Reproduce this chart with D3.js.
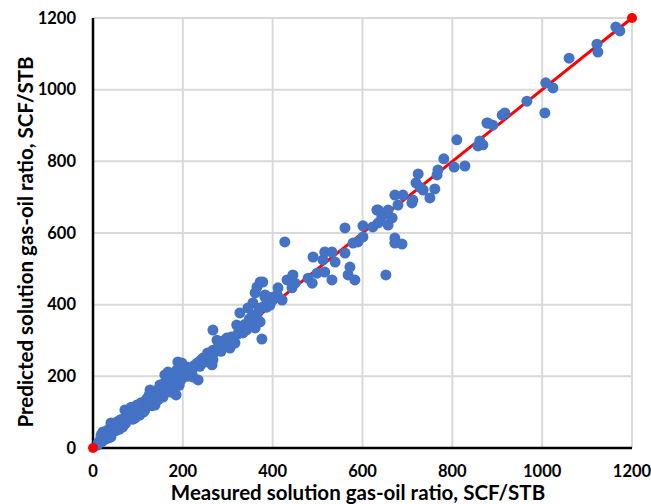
<!DOCTYPE html>
<html>
<head>
<meta charset="utf-8">
<script src="https://cdn.jsdelivr.net/npm/d3@7"></script>
<style>
  html, body { margin: 0; padding: 0; background: #fff; }
  svg { display: block; }
  text { font-family: Lato, "Open Sans", sans-serif; font-weight: bold; fill: #000; }
</style>
</head>
<body>
<svg id="chart" width="651" height="504"></svg>
<script>
// measured vs predicted Rs, SCF/STB
const lowRange = [
  [10, 8], [12, 15], [16, 22], [18, 36], [25, 30], [30, 42], [33, 50], [40, 31], [40, 70], [45, 55],
  [50, 48], [55, 65], [60, 78], [62, 59], [68, 72], [71, 106], [75, 85], [78, 87], [82, 95], [85, 114],
  [88, 80], [92, 105], [96, 98], [100, 110], [104, 92], [107, 126], [110, 118], [115, 105], [118, 114], [122, 130],
  [127, 162], [130, 125], [134, 140], [138, 120], [142, 150], [145, 135], [149, 176], [152, 148], [156, 142], [160, 204],
  [163, 160], [167, 212], [170, 170], [174, 156], [178, 185], [183, 198], [185, 148], [189, 240], [192, 175], [196, 190],
  [200, 204], [187, 218], [198, 237], [178, 209], [209, 226], [220, 212], [223, 198], [232, 237], [234, 190], [210, 200],
  [20, 18], [28, 25], [36, 40], [48, 60], [58, 52], [65, 80], [72, 68], [90, 95], [98, 120], [112, 100],
  [120, 138], [132, 118], [140, 160], [150, 158], [158, 170], [165, 180], [172, 195], [180, 172], [195, 210], [205, 218],
  [22, 45], [35, 28], [52, 72], [66, 58], [80, 104], [94, 84], [108, 100], [125, 148], [136, 128], [155, 178]
];
const midRange = [
  [215, 215], [225, 230], [238, 228], [240, 245], [245, 251], [250, 240], [255, 265], [256, 260], [260, 255], [265, 232],
  [267, 246], [267, 273], [267, 329], [272, 268], [276, 301], [280, 285], [285, 270], [289, 282], [292, 300], [298, 307],
  [300, 290], [305, 279], [308, 310], [312, 300], [316, 293], [320, 343], [322, 318], [327, 377], [330, 335], [334, 321],
  [338, 345], [342, 330], [345, 391], [348, 360], [350, 352], [352, 340], [355, 370], [356, 405], [361, 335], [361, 433],
  [365, 360], [365, 449], [367, 377], [370, 390], [372, 352], [372, 463], [376, 304], [378, 463], [380, 395], [383, 421],
  [383, 427], [387, 393], [390, 410], [394, 399], [395, 420], [399, 413], [401, 419], [410, 427], [412, 447], [421, 413],
  [427, 575], [432, 469], [443, 447], [445, 483], [450, 460], [479, 474], [488, 460], [490, 533], [499, 488], [512, 525],
  [516, 491], [516, 547], [532, 547], [532, 469], [539, 519], [561, 544], [561, 614], [568, 483], [572, 505], [579, 572],
  [583, 469], [590, 575]
];
const highRange = [
  [601, 589], [601, 620], [623, 617], [632, 664], [635, 628], [635, 664], [643, 645], [652, 483], [657, 622], [657, 664],
  [666, 642], [672, 572], [672, 586], [672, 706], [679, 678], [688, 569], [690, 706], [710, 684], [712, 692], [719, 740],
  [724, 765], [728, 728], [735, 720], [750, 698], [761, 723], [766, 762], [768, 776], [781, 807], [804, 784], [810, 860],
  [828, 787], [857, 843], [861, 857], [868, 846], [877, 907], [879, 907], [890, 901], [911, 929], [917, 935], [966, 968],
  [1006, 935], [1008, 1019], [1024, 1005], [1060, 1088], [1122, 1127], [1124, 1105], [1164, 1175], [1173, 1164]
];
const perfectFit = [[0, 0], [1200, 1200]];
const ticks = [0, 200, 400, 600, 800, 1000, 1200];

const svg = d3.select('#chart');
const x = d3.scaleLinear().domain([0, 1200]).range([93, 632]);
const y = d3.scaleLinear().domain([0, 1200]).range([448, 18]);
const allPoints = lowRange.concat(midRange, highRange);

// grid
svg.append('g').selectAll('line').data(ticks.slice(1)).enter().append('line')
  .attr('x1', (d) => x(d)).attr('x2', (d) => x(d)).attr('y1', y(0)).attr('y2', y(1200))
  .attr('stroke', '#d9d9d9').attr('stroke-width', 2);
svg.append('g').selectAll('line').data(ticks.slice(1)).enter().append('line')
  .attr('y1', (d) => y(d)).attr('y2', (d) => y(d)).attr('x1', x(0)).attr('x2', x(1200))
  .attr('stroke', '#d9d9d9').attr('stroke-width', 2);

// axes lines
svg.append('line').attr('x1', x(0)).attr('x2', x(0)).attr('y1', y(0) + 1).attr('y2', y(1200))
  .attr('stroke', '#000').attr('stroke-width', 2.5);
svg.append('line').attr('x1', x(0) - 1).attr('x2', x(1200)).attr('y1', y(0)).attr('y2', y(0))
  .attr('stroke', '#000').attr('stroke-width', 2.5);

// tick labels
svg.append('g').selectAll('text').data(ticks).enter().append('text')
  .attr('x', (d) => x(d)).attr('y', 477).attr('text-anchor', 'middle')
  .attr('font-size', 16.5).text((d) => d);
svg.append('g').selectAll('text').data(ticks).enter().append('text')
  .attr('x', 76).attr('y', (d) => y(d)).attr('dy', '0.35em').attr('text-anchor', 'end')
  .attr('font-size', 16.5).text((d) => d);

// 1:1 line
const line = d3.line().x((d) => x(d[0])).y((d) => y(d[1]));
svg.append('path').attr('d', line(perfectFit)).attr('fill', 'none')
  .attr('stroke', '#ff0000').attr('stroke-width', 3);

// points
svg.append('g').selectAll('circle').data(allPoints).enter().append('circle')
  .attr('cx', (d) => x(d[0])).attr('cy', (d) => y(d[1])).attr('r', 5.5)
  .attr('fill', '#4472c4');

svg.append('g').selectAll('circle').data(perfectFit).enter().append('circle')
  .attr('cx', (d) => x(d[0])).attr('cy', (d) => y(d[1])).attr('r', 5)
  .attr('fill', '#ff0000');

// titles
svg.append('text').attr('x', 358).attr('y', 500).attr('text-anchor', 'middle')
  .attr('font-size', 20.5).text('Measured solution gas-oil ratio, SCF/STB');
svg.append('text').attr('transform', 'translate(33,242) rotate(-90)').attr('text-anchor', 'middle')
  .attr('font-size', 20.5).text('Predicted solution gas-oil ratio, SCF/STB');
</script>
</body>
</html>
